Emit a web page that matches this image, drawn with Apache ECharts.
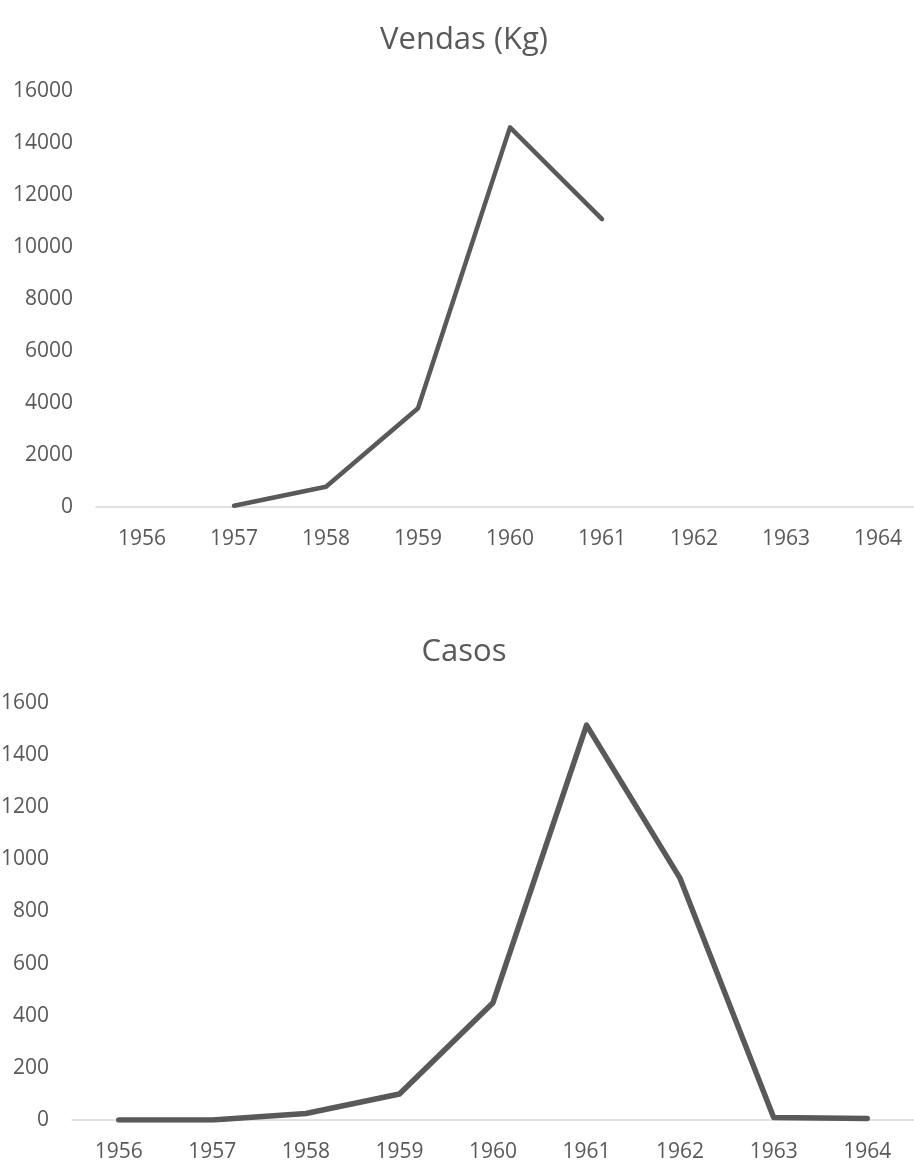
<!DOCTYPE html>
<html>
<head>
<meta charset="utf-8">
<script src="https://cdn.jsdelivr.net/npm/echarts@6/dist/echarts.min.js"></script>
<style>
  html, body { margin: 0; padding: 0; background: #fff; }
  #chart { width: 914px; height: 1162px; }
</style>
</head>
<body>
<div id="chart"></div>
<script>
// categories (years)
const years = ['1956', '1957', '1958', '1959', '1960', '1961', '1962', '1963', '1964']
// Vendas (Kg) - no values for 1956 and 1962-1964
const vendas = [null, 50, 780, 3800, 14600, 11070, null, null, null]
// Casos
const casos = [0, 0, 25, 100, 450, 1515, 927, 10, 6]

const textColor = '#595959'
const lineColor = '#595959'
const font = 'Open Sans'

const chart = echarts.init(document.getElementById('chart'))

function yAxisOpt(gridIndex, max, interval) {
  return {
    type: 'value',
    gridIndex: gridIndex,
    min: 0,
    max: max,
    interval: interval,
    axisLine: { show: false },
    axisTick: { show: false },
    splitLine: { show: false },
    axisLabel: {
      color: textColor, fontSize: 21, fontFamily: font, margin: 23,
      formatter: v => String(v)
    }
  }
}

function xAxisOpt(gridIndex) {
  return {
    type: 'category',
    gridIndex: gridIndex,
    data: years,
    boundaryGap: true,
    axisLine: { show: true, lineStyle: { color: '#d9d9d9', width: 1.5 } },
    axisTick: { show: false },
    axisLabel: { color: textColor, fontSize: 21, fontFamily: font, margin: 22, interval: 0 }
  }
}

const option = {
  backgroundColor: '#fff',
  animation: false,
  title: [
    {
      text: 'Vendas (Kg)',
      left: 464,
      top: 40,
      padding: 0,
      textAlign: 'center',
      textVerticalAlign: 'middle',
      textStyle: { color: textColor, fontSize: 31, fontWeight: 'normal', fontFamily: font }
    },
    {
      text: 'Casos',
      left: 464,
      top: 652,
      padding: 0,
      textAlign: 'center',
      textVerticalAlign: 'middle',
      textStyle: { color: textColor, fontSize: 31, fontWeight: 'normal', fontFamily: font }
    }
  ],
  grid: [
    { left: 96, top: 91, width: 828, height: 416, outerBoundsMode: 'none', containLabel: false },
    { left: 72, top: 703, width: 842, height: 417, outerBoundsMode: 'none', containLabel: false }
  ],
  xAxis: [xAxisOpt(0), xAxisOpt(1)],
  yAxis: [yAxisOpt(0, 16000, 2000), yAxisOpt(1, 1600, 200)],
  series: [
    {
      name: 'Vendas (Kg)',
      type: 'line',
      xAxisIndex: 0,
      yAxisIndex: 0,
      data: vendas,
      showSymbol: false,
      lineStyle: { color: lineColor, width: 4.5, cap: 'round', join: 'round' }
    },
    {
      name: 'Casos',
      type: 'line',
      xAxisIndex: 1,
      yAxisIndex: 1,
      data: casos,
      showSymbol: false,
      lineStyle: { color: lineColor, width: 5.5, cap: 'round', join: 'round' }
    }
  ]
}

chart.setOption(option)
</script>
</body>
</html>
